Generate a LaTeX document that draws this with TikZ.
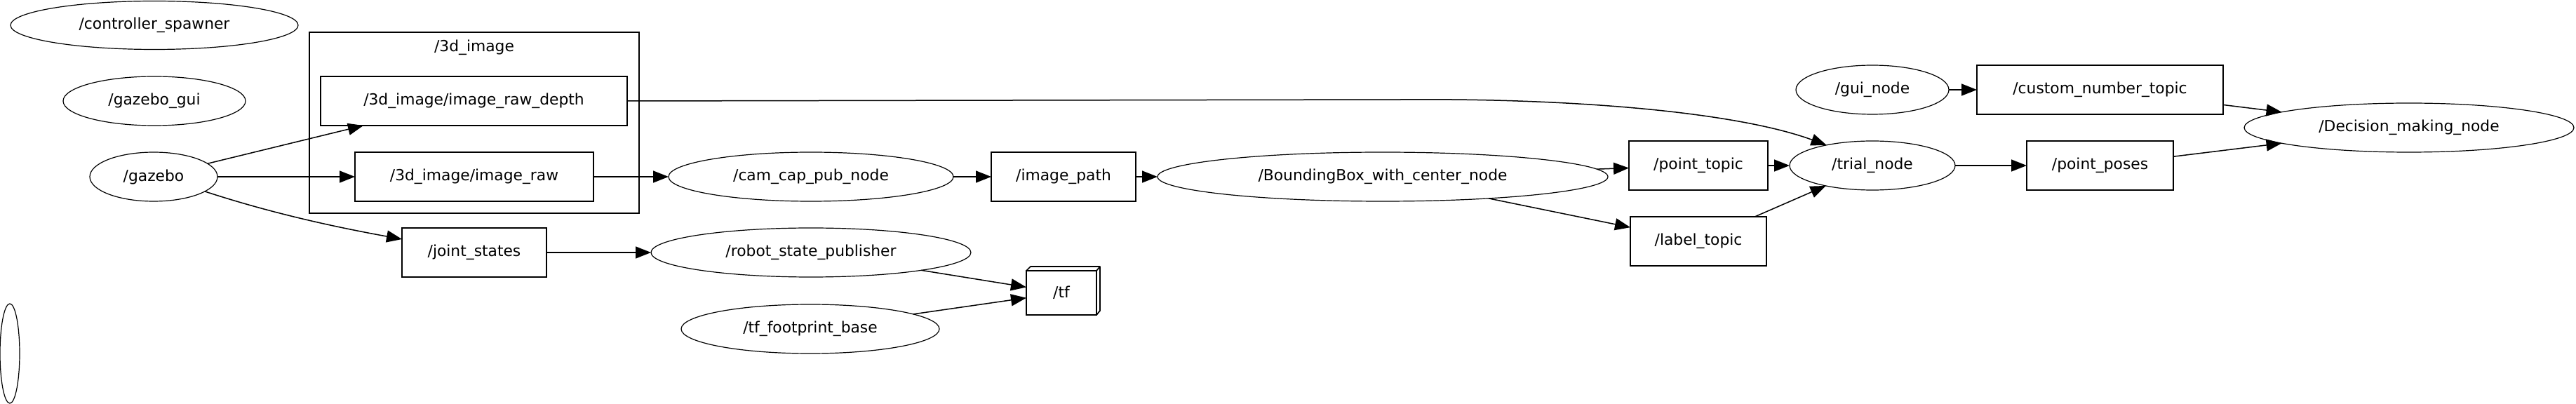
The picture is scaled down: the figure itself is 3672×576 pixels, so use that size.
\documentclass[tikz,border=0pt]{standalone}
\usepackage{fontspec}
\setmainfont{DejaVu Sans}
\usetikzlibrary{arrows.meta,shapes.geometric}
\begin{document}
\begin{tikzpicture}[x=0.5pt,y=-0.5pt,
  every node/.style={font=\fontsize{10.9}{13}\selectfont},
  nd/.style={draw, ellipse, line width=0.6pt, inner sep=0pt, outer sep=0pt, minimum height=35pt},
  tp/.style={draw, rectangle, line width=0.85pt, inner sep=2pt, outer sep=0pt, minimum height=35pt},
  edge/.style={line width=0.75pt, -{Triangle[length=11pt,width=8.5pt]}}
]
\useasboundingbox (0,0) rectangle (3672,576);
\fill[white] (0,0) rectangle (3672,576);

% cluster
\node[draw, rectangle, line width=0.85pt, inner sep=0pt, minimum width=235pt, minimum height=129pt] (cl) at (676,175) {};
\node (cllab) at (676,68) {/3d\_image};

% ellipses (nodes)
\node[nd, minimum width=205pt, minimum height=34.5pt] (cs) at (220,36) {/controller\_spawner};
\node[nd, minimum width=130pt] (gg) at (220,144) {/gazebo\_gui};
\node[nd, minimum width=91pt] (gz) at (219,252) {/gazebo};
\node[nd, minimum width=14pt, minimum height=71pt] (blank) at (14,504) {};
\node[nd, minimum width=203pt] (cam) at (1156,252) {/cam\_cap\_pub\_node};
\node[nd, minimum width=228pt] (rsp) at (1156,360) {/robot\_state\_publisher};
\node[nd, minimum width=184pt] (tfb) at (1155,469) {/tf\_footprint\_base};
\node[nd, minimum width=321pt] (bb) at (1971,252) {/BoundingBox\_with\_center\_node};
\node[nd, minimum width=118pt] (tn) at (2669,236) {/trial\_node};
\node[nd, minimum width=109pt] (gn) at (2669,128) {/gui\_node};
\node[nd, minimum width=235pt] (dm) at (3434,182) {/Decision\_making\_node};

% boxes (topics)
\node[tp, minimum width=218.5pt] (dep) at (675.5,144) {/3d\_image/image\_raw\_depth};
\node[tp, minimum width=170pt] (ir) at (676,252) {/3d\_image/image\_raw};
\node[tp, minimum width=103pt] (js) at (676,360) {/joint\_states};
\node[tp, minimum width=103pt] (ip) at (1516,252) {/image\_path};
\node[tp, minimum width=99pt] (pt) at (2421,236) {/point\_topic};
\node[tp, minimum width=97pt] (lt) at (2421,344) {/label\_topic};
\node[tp, minimum width=175.5pt] (cnt) at (2993.5,128) {/custom\_number\_topic};
\node[tp, minimum width=104.5pt] (pp) at (2993.5,236) {/point\_poses};
\node[tp, minimum width=50pt, minimum height=31.5pt] (tf) at (1513,417.5) {/tf};
\draw[line width=0.85pt, line join=round] (tf.north west) -- ++(6,-6) -| ([shift={(5,-6)}]tf.south east) -- (tf.south east);
\draw[line width=0.85pt] (tf.north east) -- ++(5,-6);

% edges
\draw[edge] (gz) -- ([xshift=30.5pt]dep.south west);
\draw[edge] (gz) -- (ir);
\draw[edge] (gz.-16) .. controls (390,305) and (480,324) .. ([yshift=9.5pt]js.west);
\draw[edge] (ir) -- (cam);
\draw[edge] (js) -- (rsp);
\draw[edge] (cam) -- (ip);
\draw[edge] (ip) -- (bb);
\draw[edge] (rsp) -- (tf);
\draw[edge] (tfb) -- (tf);
\draw[edge] (bb) -- (pt);
\draw[edge] (bb) -- (lt);
\draw[edge] (pt) -- (tn);
\draw[edge] (lt) -- (tn);
\draw[edge] (dep.east) -- (2000,142) .. controls (2230,140) and (2470,158) .. (tn.156);
\draw[edge] (tn) -- (pp);
\draw[edge] (gn) -- (cnt);
\draw[edge] (cnt) -- (dm);
\draw[edge] (pp) -- (dm);
\end{tikzpicture}
\end{document}
